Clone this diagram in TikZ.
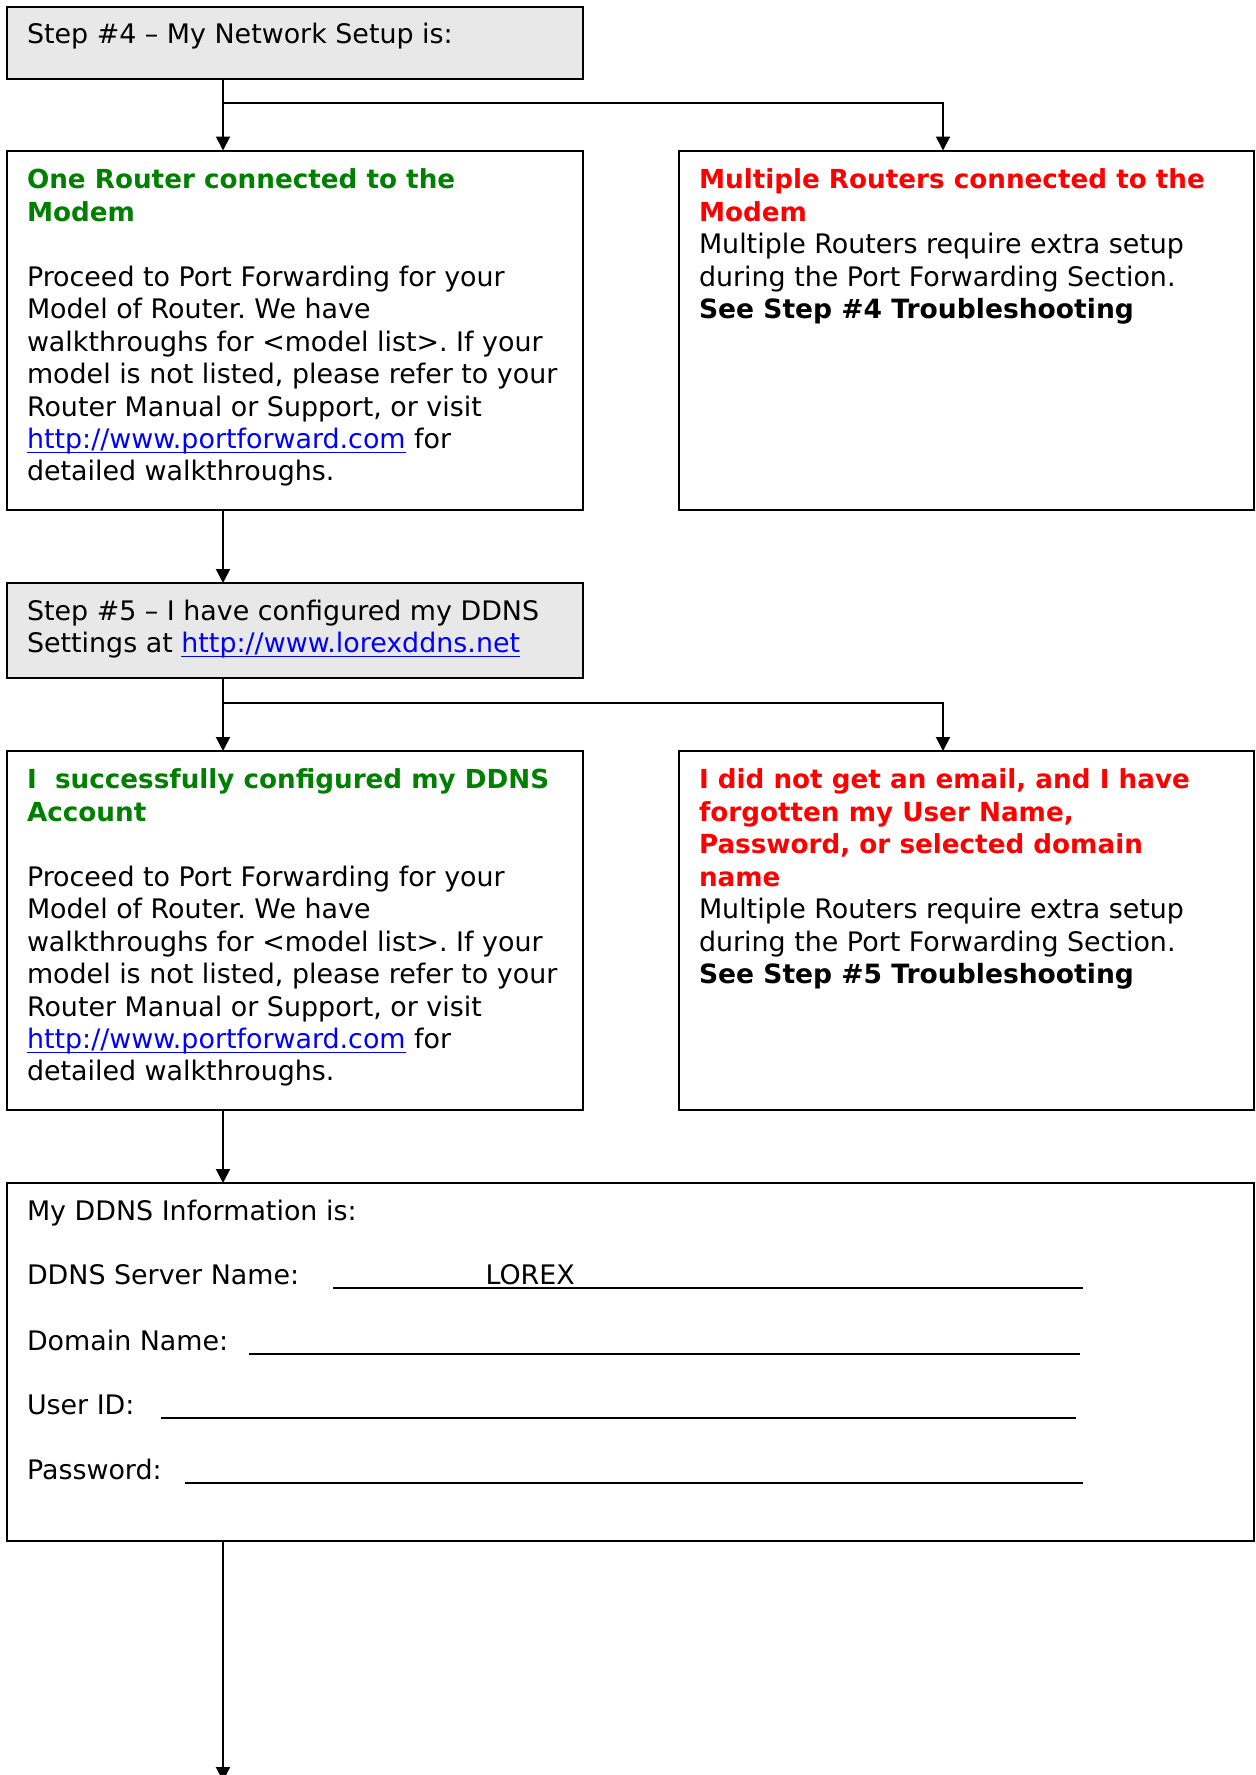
\documentclass[tikz,border=0pt]{standalone}
\usepackage{fontspec}
\setmainfont{DejaVu Sans}
\usetikzlibrary{arrows.meta}
\definecolor{okgreen}{RGB}{0,128,0}
\definecolor{errred}{RGB}{255,0,0}
\definecolor{lnkblue}{RGB}{0,0,255}
\definecolor{stepgray}{RGB}{232,232,232}
\newlength\lnklen
\newcommand\lnk[1]{\settowidth\lnklen{#1}\textcolor{lnkblue}{\rlap{\rule[-2pt]{\lnklen}{0.55pt}}#1}}
\newcommand\ttl[2]{\textcolor{#1}{\fontsize{11.8}{14.6}\selectfont\bfseries #2}}
\newcommand\seestep[1]{{\fontsize{11.95}{14.6}\selectfont\bfseries #1}}
\frenchspacing
\tikzset{
  box/.style={draw, line width=0.9pt, anchor=north west, inner sep=0pt, outer sep=0pt},
  stepbox/.style={box, fill=stepgray},
  txt/.style={anchor=north west, inner sep=0pt, outer sep=0pt, align=left,
    font=\fontsize{12.1}{14.6}\selectfont\frenchspacing},
  rowtxt/.style={anchor=base west, inner sep=0pt, outer sep=0pt,
    font=\fontsize{12.1}{14.6}\selectfont},
  conn/.style={line width=0.9pt, -{Triangle[width=6.3pt,length=6.3pt]}},
  fill line/.style={line width=0.6pt}
}
\begin{document}
\begin{tikzpicture}[x=0.45pt,y=-0.45pt]
\useasboundingbox (0,0) rectangle (1255,1775);
% boxes
\node[stepbox, minimum width=259.2pt, minimum height=32.4pt] (A) at (7,7) {};
\node[box, minimum width=259.2pt, minimum height=161.8pt] (B) at (7,150.5) {};
\node[box, minimum width=258.75pt, minimum height=161.8pt] (C) at (679,150.5) {};
\node[stepbox, minimum width=259.2pt, minimum height=42.75pt] (D) at (7,583) {};
\node[box, minimum width=259.2pt, minimum height=161.55pt] (E) at (7,751) {};
\node[box, minimum width=258.75pt, minimum height=161.55pt] (F) at (679,751) {};
\node[box, minimum width=561.15pt, minimum height=161.1pt] (G) at (7,1183) {};
% texts
\node[txt] (tA) at (27,23) {Step \#4 – My Network Setup is:};
\node[txt] (tB) at (27,169) {\ttl{okgreen}{One Router connected to the}\\
\ttl{okgreen}{Modem}\\[14.6pt]
Proceed to Port Forwarding for your\\
Model of Router. We have\\
walkthroughs for <model list>. If your\\
model is not listed, please refer to your\\
Router Manual or Support, or visit\\
\lnk{http://www.portforward.com} for\\
detailed walkthroughs.};
\node[txt] (tC) at (699,169) {\ttl{errred}{Multiple Routers connected to the}\\
\ttl{errred}{Modem}\\
Multiple Routers require extra setup\\
during the Port Forwarding Section.\\
\seestep{See Step \#4 Troubleshooting}};
\node[txt] (tD) at (27,600) {Step \#5 – I have configured my DDNS\\
Settings at \lnk{http://www.lorexddns.net}};
\node[txt] (tE) at (27,769) {\ttl{okgreen}{I\ \ successfully configured my DDNS}\\
\ttl{okgreen}{Account}\\[14.6pt]
Proceed to Port Forwarding for your\\
Model of Router. We have\\
walkthroughs for <model list>. If your\\
model is not listed, please refer to your\\
Router Manual or Support, or visit\\
\lnk{http://www.portforward.com} for\\
detailed walkthroughs.};
\node[txt] (tF) at (699,769) {\ttl{errred}{I did not get an email, and I have}\\
\ttl{errred}{forgotten my User Name,}\\
\ttl{errred}{Password, or selected domain}\\
\ttl{errred}{name}\\
Multiple Routers require extra setup\\
during the Port Forwarding Section.\\
\seestep{See Step \#5 Troubleshooting}};
% DDNS information
\node[rowtxt] (g0) at (27,1220) {My DDNS Information is:};
\node[rowtxt] (g1) at (27,1284) {DDNS Server Name:};
\node[rowtxt] (g2) at (27,1350) {Domain Name:};
\node[rowtxt] (g3) at (27,1414) {User ID:};
\node[rowtxt] (g4) at (27,1479) {Password:};
\node[rowtxt] (lorex) at (485.5,1284) {LOREX};
\draw[fill line] (333,1288) -- (1083,1288);
\draw[fill line] (249,1354) -- (1080,1354);
\draw[fill line] (161,1418) -- (1076,1418);
\draw[fill line] (184.5,1483) -- (1083,1483);
% connectors
\coordinate (c1) at (223,0);
\coordinate (c2) at (943,0);
\coordinate (j1) at (223,103);
\coordinate (j2) at (223,703);
\coordinate (end) at (223,1781);
\draw[conn] (c1 |- A.south) -- (c1 |- B.north);
\draw[conn] (j1) -| (c2 |- C.north);
\draw[conn] (c1 |- B.south) -- (c1 |- D.north);
\draw[conn] (c1 |- D.south) -- (c1 |- E.north);
\draw[conn] (j2) -| (c2 |- F.north);
\draw[conn] (c1 |- E.south) -- (c1 |- G.north);
\draw[conn] (c1 |- G.south) -- (end);
\end{tikzpicture}
\end{document}
